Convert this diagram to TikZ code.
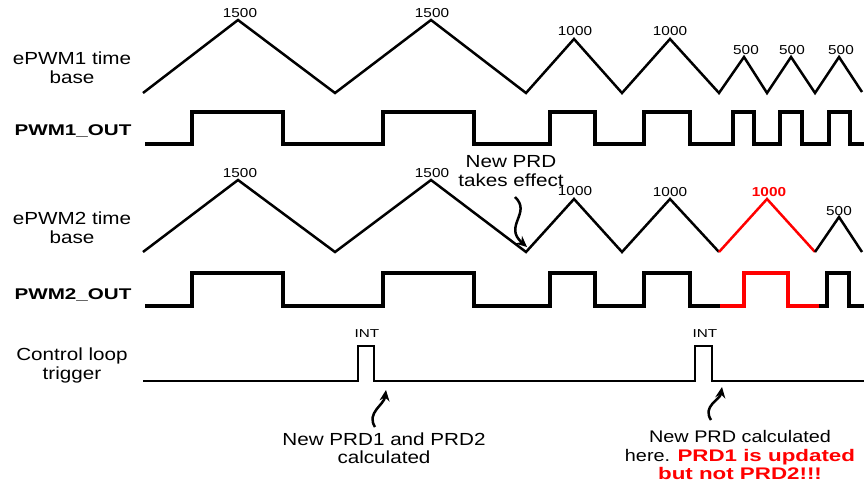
\documentclass[tikz,border=0pt]{standalone}
\usepackage{fontspec}
\setmainfont{Liberation Sans}
\newfontfamily\rf{Liberation Sans}[FakeStretch=1.18]
\newfontfamily\rbf{Liberation Sans}[FakeStretch=1.33]
\usetikzlibrary{arrows.meta}
\definecolor{hot}{RGB}{255,0,0}
\begin{document}
\begin{tikzpicture}[x=1pt,y=-1pt,
  tri/.style={line width=2.5pt},
  pwm/.style={line width=4.5pt},
  ctl/.style={line width=2.5pt},
  sidelbl/.style={font=\rf\fontsize{17.5}{19}\selectfont, align=center, inner sep=0pt},
  boldlbl/.style={font=\rbf\bfseries\fontsize{15.5}{18}\selectfont, inner sep=0pt},
  num/.style={font=\rf\fontsize{13}{15}\selectfont, inner sep=0pt},
  intlbl/.style={font=\rbf\fontsize{11.5}{13}\selectfont, inner sep=0pt},
  note/.style={font=\rf\fontsize{16.8}{18.5}\selectfont, align=center, inner sep=0pt},
  squig/.style={line width=2.5pt, -{Stealth[length=11pt,width=10pt]}}
]
\useasboundingbox (0,0) rectangle (864,484);

% side labels
\node[sidelbl] (l1) at (72,68) {ePWM1 time\\base};
\node[boldlbl] (l2) at (73,131) {PWM1\_OUT};
\node[sidelbl] (l3) at (72,228) {ePWM2 time\\base};
\node[boldlbl] (l4) at (73,295) {PWM2\_OUT};
\node[sidelbl] (l5) at (72,365) {Control loop\\trigger};

% ePWM1 time base
\draw[tri] (143,93) -- (238,20) -- (335,93) -- (431,20) -- (526,93) -- (574,39) -- (622,93)
  -- (670,39) -- (719,93) -- (744,57) -- (767,93) -- (791,57) -- (815,93) -- (839,57) -- (862,92);
\node[num] (a1) at (240,13) {1500};
\node[num] (a2) at (432,13) {1500};
\node[num] (a3) at (575,31) {1000};
\node[num] (a4) at (670,31) {1000};
\node[num] (a5) at (746,50) {500};
\node[num] (a6) at (792,50) {500};
\node[num] (a7) at (841,50) {500};

% PWM1 out
\draw[pwm] (145,144) -- (192,144) -- (192,112) -- (283,112) -- (283,144) -- (383,144) -- (383,112)
  -- (474,112) -- (474,144) -- (550,144) -- (550,112) -- (595,112) -- (595,144) -- (644,144)
  -- (644,112) -- (690,112) -- (690,144) -- (733,144) -- (733,112) -- (754,112) -- (754,144)
  -- (780,144) -- (780,112) -- (802,112) -- (802,144) -- (829,144) -- (829,112) -- (850,112)
  -- (850,144) -- (864,144);

% ePWM2 time base
\draw[tri] (143,252) -- (238,180) -- (335,252) -- (431,180) -- (526,252) -- (574,199) -- (622,252)
  -- (670,199) -- (719,252);
\draw[tri,hot] (719,252) -- (767,199) -- (815,252);
\draw[tri] (815,252) -- (839,217) -- (862,252);
\node[num] (b1) at (240,173) {1500};
\node[num] (b2) at (432,173) {1500};
\node[num] (b3) at (575,191) {1000};
\node[num] (b4) at (670,192) {1000};
\node[num,font=\rf\bfseries\fontsize{13}{15}\selectfont,text=hot] (b5) at (769,192) {1000};
\node[num] (b6) at (839,211) {500};

% PWM2 out
\draw[pwm] (145,306) -- (192,306) -- (192,273) -- (283,273) -- (283,306) -- (383,306) -- (383,273)
  -- (474,273) -- (474,306) -- (550,306) -- (550,273) -- (595,273) -- (595,306) -- (644,306)
  -- (644,273) -- (690,273) -- (690,306) -- (720,306);
\draw[pwm,hot] (720,306) -- (744,306) -- (744,273) -- (788,273) -- (788,306) -- (819,306);
\draw[pwm] (819,306) -- (827,306) -- (827,273) -- (849,273) -- (849,306) -- (864,306);

% control loop trigger
\draw[ctl] (143,381) -- (358,381) -- (358,346) -- (374,346) -- (374,381) -- (695,381)
  -- (695,346) -- (712,346) -- (712,381) -- (864,381);
\node[intlbl] (i1) at (367,334) {INT};
\node[intlbl] (i2) at (705,334) {INT};

% notes
\node[note,font=\rf\fontsize{17.5}{18.5}\selectfont] (n1) at (511,171) {New PRD\\takes effect};
\node[note,font=\rf\fontsize{17.5}{18.5}\selectfont] (n2) at (384,448) {New PRD1 and PRD2\\calculated};
\node[note] (n3) at (740,455) {New PRD calculated\\here. {\rbf\bfseries\color{hot}PRD1 is updated}\\{\rbf\bfseries\color{hot}but not PRD2!!!}};

% squiggly arrows
\coordinate (s1) at (515,197);
\coordinate (e1) at (527,247);
\draw[squig] (s1) .. controls (532,213) and (503,226) .. (e1);
\coordinate (s2) at (375,427);
\coordinate (e2) at (386,390);
\draw[squig] (s2) .. controls (366,413) and (384,405) .. (e2);
\coordinate (s3) at (711,420);
\coordinate (e3) at (722,387);
\draw[squig] (s3) .. controls (702,406) and (720,400) .. (e3);
\end{tikzpicture}
\end{document}
